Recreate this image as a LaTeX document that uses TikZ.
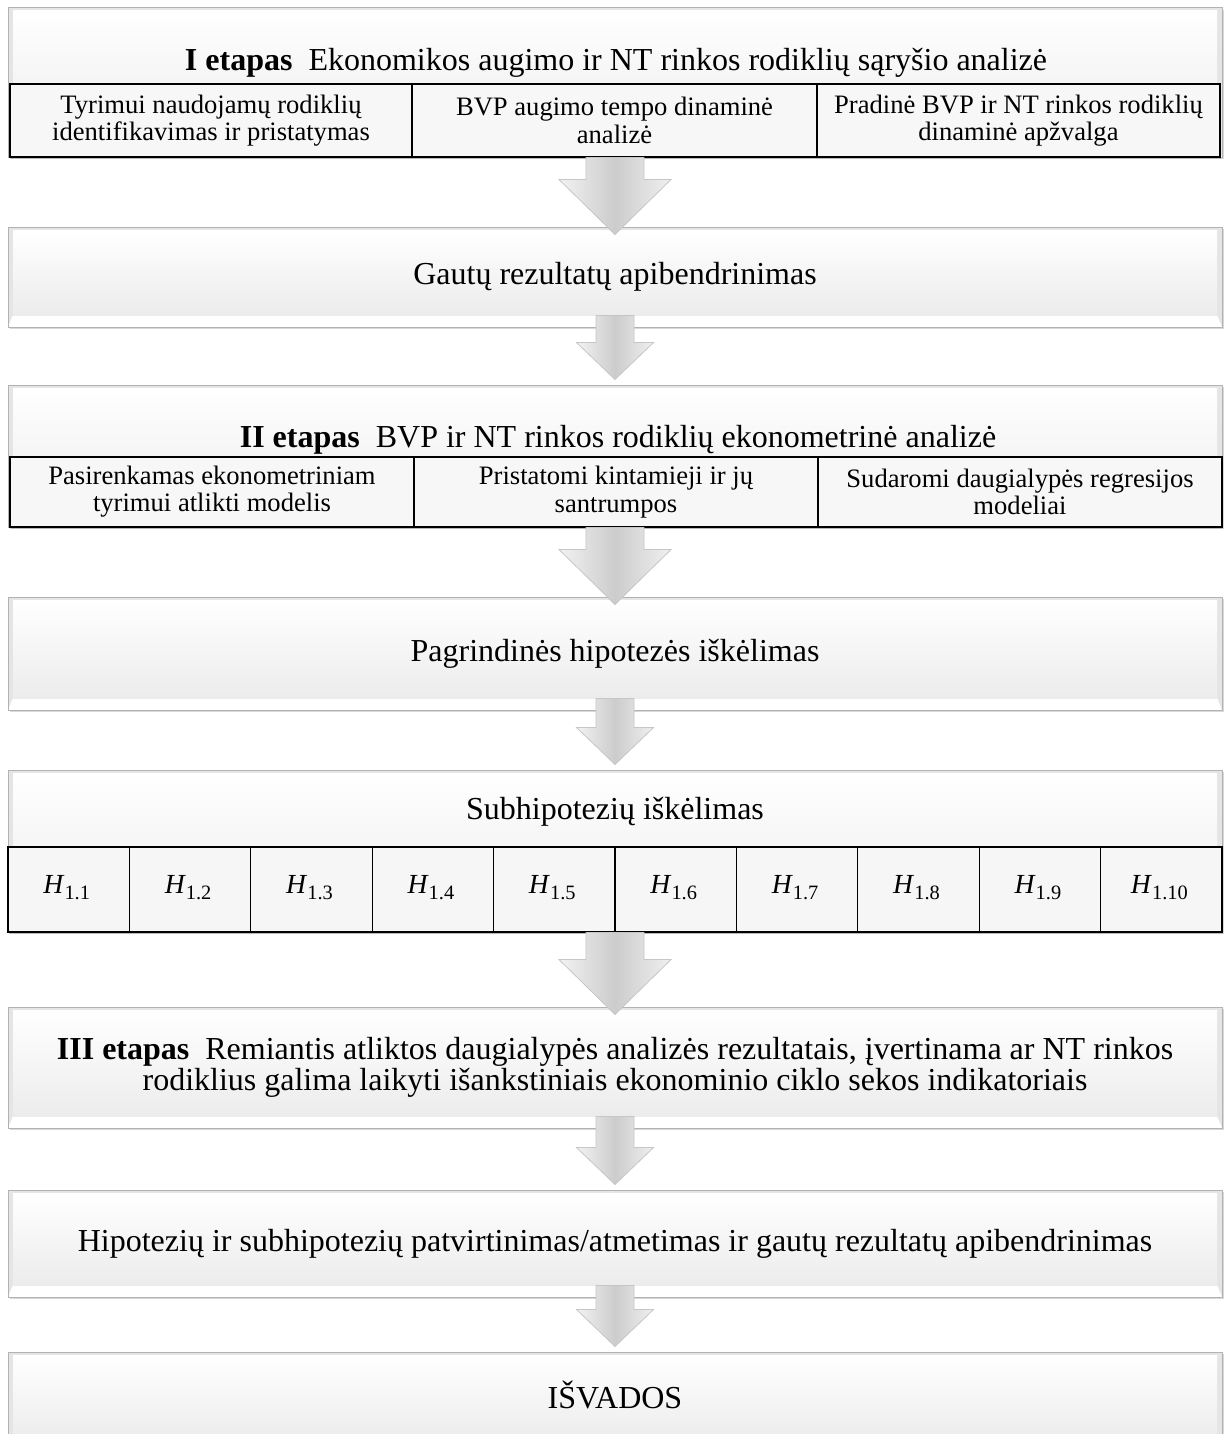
\documentclass[tikz,border=0pt]{standalone}
\usepackage{fontspec}
\setmainfont{Liberation Serif}
\usetikzlibrary{fit,calc,shadows}

\tikzset{
  outerbox/.style={inner sep=0pt, draw=gray!60, line width=0.5pt, fill=gray!20,
    drop shadow={shadow xshift=0.8pt, shadow yshift=-1.2pt, opacity=0.3, fill=gray},
    path picture={
      \fill[white] (path picture bounding box.south west) -- (path picture bounding box.south east)
        -- ([xshift=-2.5pt,yshift=6pt]path picture bounding box.south east)
        -- ([xshift=2.5pt,yshift=6pt]path picture bounding box.south west) -- cycle;
      \shade[top color=white, bottom color=gray!15]
        ([xshift=2.5pt,yshift=6pt]path picture bounding box.south west) rectangle
        ([xshift=-2.5pt,yshift=-1.5pt]path picture bounding box.north east);
    }},
  subcell/.style={draw=black, line width=0.6pt, fill=gray!6, inner sep=0pt,
    drop shadow={shadow xshift=0.6pt, shadow yshift=-1.2pt, opacity=0.35, fill=gray}},
  hcell/.style={draw=black, line width=0.6pt, fill=gray!7, inner sep=0pt,
    drop shadow={shadow xshift=0.6pt, shadow yshift=-1.2pt, opacity=0.35, fill=gray}},
  maintext/.style={inner sep=0pt, align=center, font=\fontsize{16}{15.5}\selectfont},
  subtext/.style={inner sep=0pt, align=center, font=\fontsize{13.3}{13.6}\selectfont},
  htext/.style={inner sep=0pt, font=\fontsize{13.8}{16}\selectfont},
  arrowfill/.style={draw=gray!45, line width=0.4pt, left color=gray!10, right color=gray!12, middle color=gray!40}
}

\newcommand\blockarrow[5]{%
  \path[arrowfill] let \p1=(#1), \p2=(#2) in
    (\x1-#3,\y1) -- (\x1+#3,\y1) -- (\x1+#3,\y2+#5) -- (\x1+#4,\y2+#5) -- (\x1,\y2)
    -- (\x1-#4,\y2+#5) -- (\x1-#3,\y2+#5) -- cycle;}
\newcommand\hsym[1]{\textit{H}\raisebox{-3.3pt}{\fontsize{10.2}{11}\selectfont 1.#1}}

\begin{document}
\begin{tikzpicture}[x=0.5pt,y=-0.5pt]
\useasboundingbox (0,0) rectangle (1224,1434);
\clip (0,0) rectangle (1224,1434);
\fill[white] (0,0) rectangle (1224,1434);

% Box 1
\node[outerbox, fit={(8,8) (1222,157)}] (b1) {};
\node[maintext] (t1) at (616,63) {\textbf{I etapas}\enspace Ekonomikos augimo ir NT rinkos rodiklių sąryšio analizė};
\node[subcell, fit={(10,84) (412,157)}] (s11) {};
\node[subcell, fit={(412,84) (817,157)}] (s12) {};
\node[subcell, fit={(817,84) (1220,157)}] (s13) {};
\node[subtext] (s11t) at (s11.center) {Tyrimui naudojamų rodiklių\\identifikavimas ir pristatymas};
\node[subtext] (s12t) at (s12.center) {BVP augimo tempo dinaminė\\analizė};
\node[subtext] (s13t) at (s13.center) {Pradinė BVP ir NT rinkos rodiklių\\dinaminė apžvalga};

% Box 2
\node[outerbox, fit={(8,227) (1222,327)}] (b2) {};
\node[maintext] (b2t) at (b2.center) {Gautų rezultatų apibendrinimas};

% Box 3
\node[outerbox, fit={(8,385) (1222,527)}] (b3) {};
\node[maintext] (t3) at (618,440) {\textbf{II etapas}\enspace BVP ir NT rinkos rodiklių ekonometrinė analizė};
\node[subcell, fit={(10,457) (414,527)}] (s31) {};
\node[subcell, fit={(414,457) (818,527)}] (s32) {};
\node[subcell, fit={(818,457) (1222,527)}] (s33) {};
\node[subtext] (s31t) at (s31.center) {Pasirenkamas ekonometriniam\\tyrimui atlikti modelis};
\node[subtext] (s32t) at (s32.center) {Pristatomi kintamieji ir jų\\santrumpos};
\node[subtext] (s33t) at (s33.center) {Sudaromi daugialypės regresijos\\modeliai};

% Box 4
\node[outerbox, fit={(8,597) (1222,710)}] (b4) {};
\node[maintext] (b4t) at (b4.center) {Pagrindinės hipotezės iškėlimas};

% Box 5
\node[outerbox, fit={(8,770) (1222,932)}] (b5) {};
\node[maintext] (t5) at (615,812) {Subhipotezių iškėlimas};
\foreach \i in {1,...,10} {
  \pgfmathsetmacro\xa{8+(\i-1)*121.4}
  \pgfmathsetmacro\xb{8+\i*121.4}
  \node[hcell, fit={(\xa,847) (\xb,932)}] (h\i) {};
  \node[htext] (h\i t) at ($(h\i.center)+(-2,-2)$) {\hsym{\i}};
}

% Box 6
\node[outerbox, fit={(8,1007) (1222,1128)}] (b6) {};
\node[maintext] (b6t) at (b6.center) {\textbf{III etapas}\enspace Remiantis atliktos daugialypės analizės rezultatais, įvertinama ar NT rinkos\\rodiklius galima laikyti išankstiniais ekonominio ciklo sekos indikatoriais};

% Box 7
\node[outerbox, fit={(8,1190) (1222,1297)}] (b7) {};
\node[maintext] (b7t) at (b7.center) {Hipotezių ir subhipotezių patvirtinimas/atmetimas ir gautų rezultatų apibendrinimas};

% Box 8
\node[outerbox, fit={(8,1352) (1222,1452)}] (b8) {};
\node[maintext] (t8) at (615,1395) {IŠVADOS};

% Block arrows
\blockarrow{b1.south}{$(b2.north)+(0,-4pt)$}{14.5pt}{28pt}{27.5pt}
\blockarrow{$(b2.south)+(0,6pt)$}{$(b3.north)+(0,2.5pt)$}{9.5pt}{19.25pt}{18.5pt}
\blockarrow{b3.south}{$(b4.north)+(0,-4pt)$}{14.5pt}{28pt}{27.5pt}
\blockarrow{$(b4.south)+(0,6pt)$}{$(b5.north)+(0,2.5pt)$}{9.5pt}{19.25pt}{18.5pt}
\blockarrow{b5.south}{$(b6.north)+(0,-4pt)$}{14.5pt}{28pt}{27.5pt}
\blockarrow{$(b6.south)+(0,6pt)$}{$(b7.north)+(0,2.5pt)$}{9.5pt}{19.25pt}{18.5pt}
\blockarrow{$(b7.south)+(0,6pt)$}{$(b8.north)+(0,2.5pt)$}{9.5pt}{19.25pt}{18.5pt}
\end{tikzpicture}
\end{document}
